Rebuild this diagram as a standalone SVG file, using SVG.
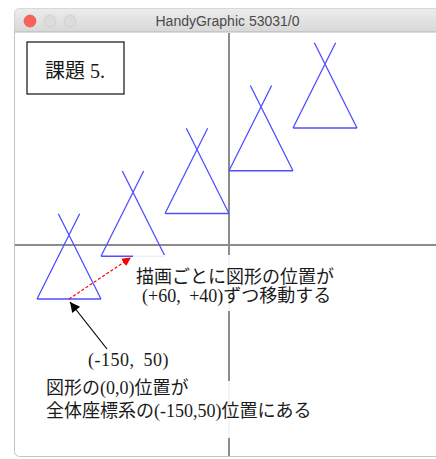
<svg xmlns="http://www.w3.org/2000/svg" xmlns:xlink="http://www.w3.org/1999/xlink" width="436" height="459" viewBox="0 0 436 459">
  <style>
    .axis { stroke: #8c8c8c; stroke-width: 2; fill: none; }
    .teepee { stroke: #5050ff; stroke-width: 1.3; fill: none; }
    .jp { font-family: "Liberation Serif", "Noto Sans CJK JP", serif; font-size: 18px; fill: #1a1a1a; }
    .la { letter-spacing: 0.5px; }
    .bg { fill: #ffffff; fill-opacity: 0.9; }
    .title { font-family: "Liberation Sans", "DejaVu Sans", sans-serif; font-size: 14px; fill: #4a4a4a; }
  </style>
  <defs>
    <linearGradient id="tb" x1="0" y1="0" x2="0" y2="1">
      <stop offset="0" stop-color="#ececec"/>
      <stop offset="1" stop-color="#d8d8d8"/>
    </linearGradient>
    <path id="tp" d="M-32,0 H32 M-32,0 L10.67,-85.33 M32,0 L-10.67,-85.33"/>
    <marker id="redHead" viewBox="0 0 10 10" refX="10" refY="5" markerWidth="9" markerHeight="9" markerUnits="userSpaceOnUse" orient="auto">
      <path d="M0,0 L10,5 L0,10 z" fill="#ff0000"/>
    </marker>
    <marker id="blackHead" viewBox="0 0 10 10" refX="10" refY="5" markerWidth="12" markerHeight="10" markerUnits="userSpaceOnUse" orient="auto">
      <path d="M0,0 L10,5 L0,10 z" fill="#000000"/>
    </marker>
  </defs>

  <rect x="0" y="0" width="436" height="459" fill="#ffffff"/>

  <!-- window -->
  <g id="window">
    <rect x="14.5" y="8.5" width="440" height="448" rx="5" fill="#ffffff" stroke="#c4c4c4" stroke-width="1"/>
    <path d="M14.5,32 V13.5 a5,5 0 0 1 5,-5 H440 V32 Z" fill="url(#tb)"/>
    <line x1="14.5" y1="32" x2="436" y2="32" stroke="#b5b5b5" stroke-width="1"/>
    <circle cx="30" cy="21" r="6" fill="#fc605b" stroke="#de4a45" stroke-width="0.6"/>
    <circle cx="50" cy="21" r="6" fill="#dcdcdc" stroke="#c6c6c6" stroke-width="0.6"/>
    <circle cx="70" cy="21" r="6" fill="#dcdcdc" stroke="#c6c6c6" stroke-width="0.6"/>
    <text class="title" x="227.5" y="26" text-anchor="middle">HandyGraphic 53031/0</text>
  </g>

  <!-- axes -->
  <g id="axes">
    <line class="axis" x1="15" y1="245" x2="436" y2="245"/>
    <line class="axis" x1="229" y1="33" x2="229" y2="456"/>
  </g>

  <!-- title box -->
  <g id="label-kadai">
    <rect x="27" y="42" width="97" height="52" fill="#ffffff" stroke="#222222" stroke-width="1.3"/>
    <text class="jp" x="45" y="78" style="font-size:20px">課題 5.</text>
  </g>

  <!-- shapes -->
  <g id="shape0" class="teepee" transform="translate(69,299)"><use xlink:href="#tp"/></g>
  <g id="shape1" class="teepee" transform="translate(133,256.25)"><use xlink:href="#tp"/></g>
  <g id="shape2" class="teepee" transform="translate(197,213.5)"><use xlink:href="#tp"/></g>
  <g id="shape3" class="teepee" transform="translate(261,170.75)"><use xlink:href="#tp"/></g>
  <g id="shape4" class="teepee" transform="translate(325,128)"><use xlink:href="#tp"/></g>

  <!-- connectors -->
  <g id="connectors">
    <line x1="69" y1="299" x2="131" y2="257.5" stroke="#ff0000" stroke-width="1.2" stroke-dasharray="3,2" marker-end="url(#redHead)"/>
    <line x1="107" y1="349" x2="70" y2="302" stroke="#000000" stroke-width="1.2" marker-end="url(#blackHead)"/>
  </g>

  <!-- labels -->
  <g id="label-move">
    <rect class="bg" x="133" y="255" width="208" height="56"/>
    <text class="jp" x="136" y="283">描画ごとに図形の位置が</text>
    <text class="jp" x="142" y="302" style="word-spacing:4px">(+60, +40)ずつ移動する</text>
  </g>

  <g id="label-coord">
    <text class="jp la" x="88" y="366" style="word-spacing:4px">(-150, 50)</text>
  </g>

  <g id="label-origin">
    <rect class="bg" x="43" y="381" width="296" height="57"/>
    <text class="jp" x="46" y="394">図形の(0,0)位置が</text>
    <text class="jp" x="46" y="417">全体座標系の(-150,50)位置にある</text>
  </g>
</svg>
